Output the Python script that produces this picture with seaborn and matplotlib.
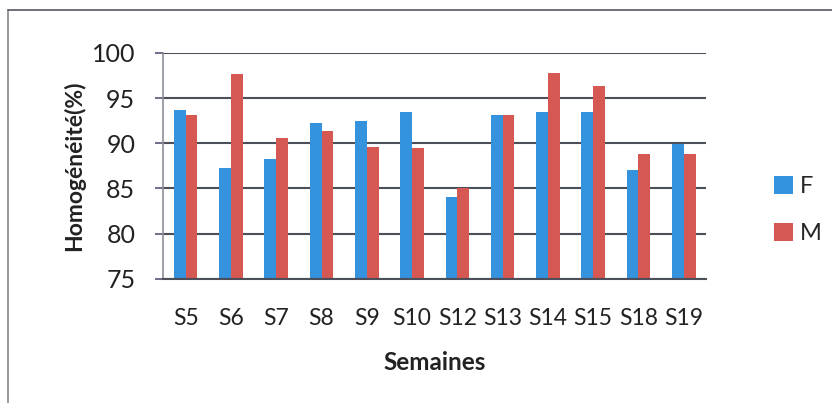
import matplotlib
matplotlib.use("Agg")
import matplotlib.pyplot as plt
import seaborn as sns
import pandas as pd
from matplotlib.lines import Line2D

semaines = ["S5", "S6", "S7", "S8", "S9", "S10", "S12", "S13", "S14", "S15", "S18", "S19"]
valeurs_F = [93.7, 87.3, 88.3, 92.2, 92.5, 93.4, 84.1, 93.1, 93.5, 93.5, 87.0, 89.9]
valeurs_M = [93.1, 97.6, 90.6, 91.3, 89.6, 89.5, 85.1, 93.1, 97.8, 96.3, 88.8, 88.8]
series = ["F", "M"]
yticks = [75, 80, 85, 90, 95, 100]

df = pd.DataFrame({
    "Semaine": semaines * 2,
    "Sexe": ["F"] * len(semaines) + ["M"] * len(semaines),
    "Valeur": valeurs_F + valeurs_M,
})

sns.set_theme(style="white")
plt.rcParams["font.family"] = ["Lato", "DejaVu Sans"]

fig = plt.figure(figsize=(8.32, 4.03), dpi=100)
ax = fig.add_axes([0.196, 0.308, 0.653, 0.561])

palette = {"F": "#3592DC", "M": "#D65853"}
sns.barplot(data=df, x="Semaine", y="Valeur", hue="Sexe", order=semaines,
            hue_order=series, palette=palette, width=0.52, ax=ax,
            edgecolor="none", saturation=1, legend=True)

ax.set_ylim(75, 100)
ax.set_xlim(-0.5, len(semaines) - 0.5)
ax.set_yticks(yticks)
ax.set_yticklabels([str(v) for v in yticks], fontsize=18, color="#222222")
ax.tick_params(axis="x", labelsize=16.5, colors="#222222", length=0, pad=21)
ax.tick_params(axis="y", left=True, length=6, width=1.2, color="#555577", pad=14)
ax.yaxis.grid(True, color="#4a4f5a", linewidth=1.5)
ax.set_axisbelow(True)
for s in ["top", "right"]:
    ax.spines[s].set_visible(False)
ax.spines["left"].set_color("#8a8f99")
ax.spines["left"].set_linewidth(1.2)
ax.spines["bottom"].set_color("#4a4f5a")
ax.spines["bottom"].set_linewidth(1.5)

ax.set_xlabel("Semaines", fontsize=17.5, fontweight="bold", color="#222222", labelpad=16)
ax.set_ylabel("Homogénéité(%)", fontsize=16.5, fontweight="bold", color="#222222", labelpad=5)

leg = ax.legend(title=None, loc="center left", bbox_to_anchor=(1.085, 0.305),
                frameon=False, fontsize=17, handlelength=0.8, handleheight=0.8,
                handletextpad=0.3, labelspacing=1.1)

fig.add_artist(Line2D([8 / 832, 8 / 832], [0, 1 - 10 / 403], transform=fig.transFigure,
                      color="#888888", linewidth=1.2))
fig.add_artist(Line2D([8 / 832, 1], [1 - 10 / 403, 1 - 10 / 403], transform=fig.transFigure,
                      color="#555566", linewidth=1.2))

fig.savefig("out.png", dpi=100)
